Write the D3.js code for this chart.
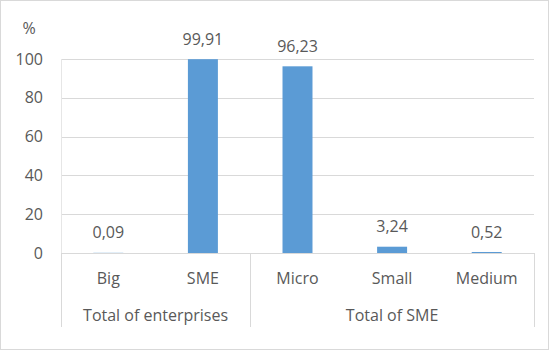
<!DOCTYPE html>
<html>
<head>
<meta charset="utf-8">
<script src="https://cdn.jsdelivr.net/npm/d3@7"></script>
<style>
  html, body { margin: 0; padding: 0; background: #fff; }
  svg { display: block; }
  text { font-family: "Open Sans", sans-serif; fill: #595959; }
</style>
</head>
<body>
<svg id="chart" width="550" height="351"></svg>
<script>
const categories = ["Big", "SME", "Micro", "Small", "Medium"];
const values = [0.09, 99.91, 96.23, 3.24, 0.52];
const groups = ["Total of enterprises", "Total of SME"];
const groupOf = ["Total of enterprises", "Total of enterprises", "Total of SME", "Total of SME", "Total of SME"];
const yTicks = [0, 20, 40, 60, 80, 100];
const yLabel = "%";

(function () {
const svg = d3.select("#chart");
const W = 550, H = 351;
const pLeft = 61, pRight = 534, pTop = 59, pBottom = 253, axisBottom = 327;

svg.append("rect").attr("x", 0.5).attr("y", 0.5).attr("width", W - 2).attr("height", H - 2)
  .attr("fill", "#fff").attr("stroke", "#d9d9d9");

const x = d3.scaleBand().domain(categories).range([pLeft, pRight]).paddingInner(0.683).paddingOuter(0.3415);
const y = d3.scaleLinear().domain([0, 100]).range([pBottom, pTop]);

// gridlines
svg.append("g").selectAll("line").data(yTicks).join("line")
  .attr("x1", pLeft).attr("x2", pRight)
  .attr("y1", d => Math.round(y(d)) + 0.5).attr("y2", d => Math.round(y(d)) + 0.5)
  .attr("stroke", "#d9d9d9").attr("stroke-width", 1);

// faint left vertical line in plot
svg.append("line").attr("x1", pLeft + 0.5).attr("x2", pLeft + 0.5)
  .attr("y1", pTop).attr("y2", pBottom).attr("stroke", "#e6e6e6");

// y tick labels
svg.append("g").selectAll("text").data(yTicks).join("text")
  .attr("x", 43).attr("y", d => y(d)).attr("dy", "0.35em")
  .attr("text-anchor", "end").attr("font-size", 16).text(d => d);

svg.append("text").attr("x", 29).attr("y", 28).attr("dy", "0.35em")
  .attr("text-anchor", "middle").attr("font-size", 16).text(yLabel);

// bars
const data = categories.map((c, i) => ({ c, v: values[i], g: groupOf[i] }));
svg.append("g").selectAll("rect").data(data).join("rect")
  .attr("x", d => x(d.c)).attr("width", x.bandwidth())
  .attr("y", d => y(d.v)).attr("height", d => y(0) - y(d.v))
  .attr("fill", "#5b9bd5");

// value labels
svg.append("g").selectAll("text").data(data).join("text")
  .attr("x", d => x(d.c) + x.bandwidth() / 2)
  .attr("y", d => y(d.v) - 20).attr("dy", "0.35em")
  .attr("text-anchor", "middle").attr("font-size", 16)
  .text(d => d.v.toFixed(2).replace(".", ","));

// category axis lines
const step = x.step();
const boundaries = [pLeft];
let count = 0;
groups.forEach(g => {
  count += groupOf.filter(v => v === g).length;
  boundaries.push(pLeft + count * step);
});
svg.append("g").selectAll("line").data(boundaries).join("line")
  .attr("x1", d => Math.round(d) + 0.5).attr("x2", d => Math.round(d) + 0.5)
  .attr("y1", pBottom).attr("y2", axisBottom)
  .attr("stroke", "#d9d9d9");

// category labels
svg.append("g").selectAll("text").data(categories).join("text")
  .attr("x", d => x(d) + x.bandwidth() / 2).attr("y", 278).attr("dy", "0.35em")
  .attr("text-anchor", "middle").attr("font-size", 16).text(d => d);

// group labels
svg.append("g").selectAll("text").data(groups).join("text")
  .attr("x", (d, i) => (boundaries[i] + boundaries[i + 1]) / 2).attr("y", 315).attr("dy", "0.35em")
  .attr("text-anchor", "middle").attr("font-size", 16).text(d => d);
})();
</script>
</body>
</html>
